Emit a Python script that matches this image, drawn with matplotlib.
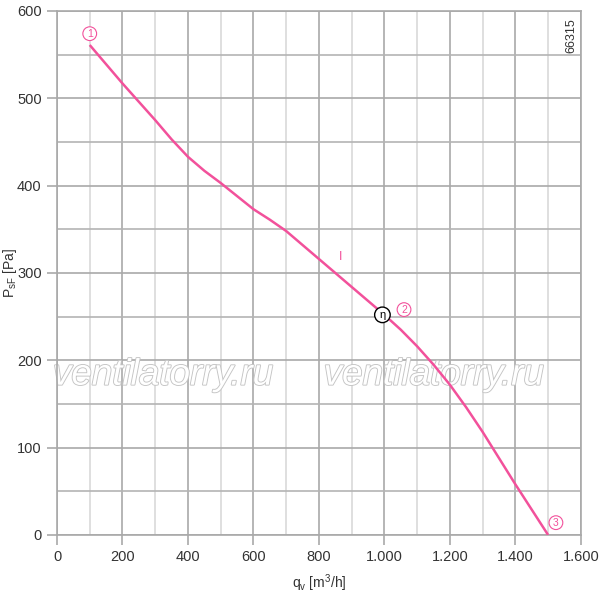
import matplotlib
matplotlib.use('Agg')
import matplotlib.pyplot as plt
import matplotlib.patheffects as pe
from matplotlib.ticker import MultipleLocator, FuncFormatter

# Fan curve (every 50 m3/h)
qv = [100, 150, 200, 250, 300, 350, 400, 450, 500, 550, 600, 650, 700, 750, 800,
      850, 900, 950, 1000, 1050, 1100, 1150, 1200, 1250, 1300, 1350, 1400, 1450, 1500]
psf = [561, 539, 517, 496, 475, 453, 433, 417, 403, 388, 373, 361, 348, 332, 316,
       300, 284, 268, 252, 235, 216, 195, 172, 146, 118, 88, 58, 29, 0]

pink = '#f2519b'
grid_dark = '#a9a9a9'
grid_light = '#d9d9d9'
text_color = '#333333'

plt.rcParams['font.family'] = ['Liberation Sans', 'DejaVu Sans']

fig = plt.figure(figsize=(6.0, 5.93), dpi=100)
ax = fig.add_axes([0.095, 0.098, 0.873, 0.8835])

ax.set_xlim(0, 1600)
ax.set_ylim(0, 600)

# grid: vertical 200 dark / 100 light, horizontal every 50
ax.xaxis.set_major_locator(MultipleLocator(200))
ax.xaxis.set_minor_locator(MultipleLocator(100))
ax.yaxis.set_major_locator(MultipleLocator(100))
ax.yaxis.set_minor_locator(MultipleLocator(50))
ax.grid(which='major', axis='both', color=grid_dark, linewidth=1.2, zorder=0)
ax.grid(which='minor', axis='x', color=grid_light, linewidth=1.2, zorder=0)
ax.grid(which='minor', axis='y', color='#b4b4b4', linewidth=1.2, zorder=0)
ax.set_axisbelow(True)

for s in ax.spines.values():
    s.set_color(grid_dark)
    s.set_linewidth(1.2)

ax.tick_params(which='major', direction='out', length=7, width=1.2,
               color=grid_dark, labelsize=10.5, labelcolor=text_color, pad=4)
ax.tick_params(which='minor', length=0)


def thousands(v, pos):
    return '{:,}'.format(int(v)).replace(',', '.')


ax.xaxis.set_major_formatter(FuncFormatter(thousands))

ax.set_xlabel('q$_\\mathregular{v}$ [m$^\\mathregular{3}$/h]', fontsize=10, color=text_color, labelpad=6)
ax.set_ylabel('P$_\\mathregular{sF}$ [Pa]', fontsize=10, color=text_color)
ax.yaxis.set_label_coords(-0.072, 0.5)

# watermark
for wx in [324, 1151]:
    ax.text(wx, 172, 'ventilatorry.ru', fontsize=26.5, style='italic', color='white',
            ha='center', va='baseline', zorder=1,
            path_effects=[pe.Stroke(linewidth=1.3, foreground='#c4c4c4'), pe.Normal()])

ax.plot(qv, psf, color=pink, linewidth=1.8, zorder=3, solid_capstyle='butt',
        solid_joinstyle='round')

# markers
circ = dict(boxstyle='circle,pad=0.18', fc='white', ec=pink, lw=0.8)
ax.text(100, 574, '1', fontsize=7.5, color=pink, ha='center', va='center', bbox=circ, zorder=4)
ax.text(1060, 258, '2', fontsize=7.5, color=pink, ha='center', va='center', bbox=circ, zorder=4)
ax.text(1524, 14, '3', fontsize=7.5, color=pink, ha='center', va='center', bbox=circ, zorder=4)
ax.text(994, 252, 'η', fontsize=8, color='black', ha='center', va='center',
        bbox=dict(boxstyle='circle,pad=0.25', fc='white', ec='black', lw=1.0), zorder=4)
ax.text(866, 318, 'I', fontsize=9, color=pink, ha='center', va='center', zorder=4)

ax.text(1570, 572, '66315', fontsize=9, color=text_color, rotation=90,
        ha='center', va='center', zorder=4)

fig.savefig('out.png', dpi=100)
